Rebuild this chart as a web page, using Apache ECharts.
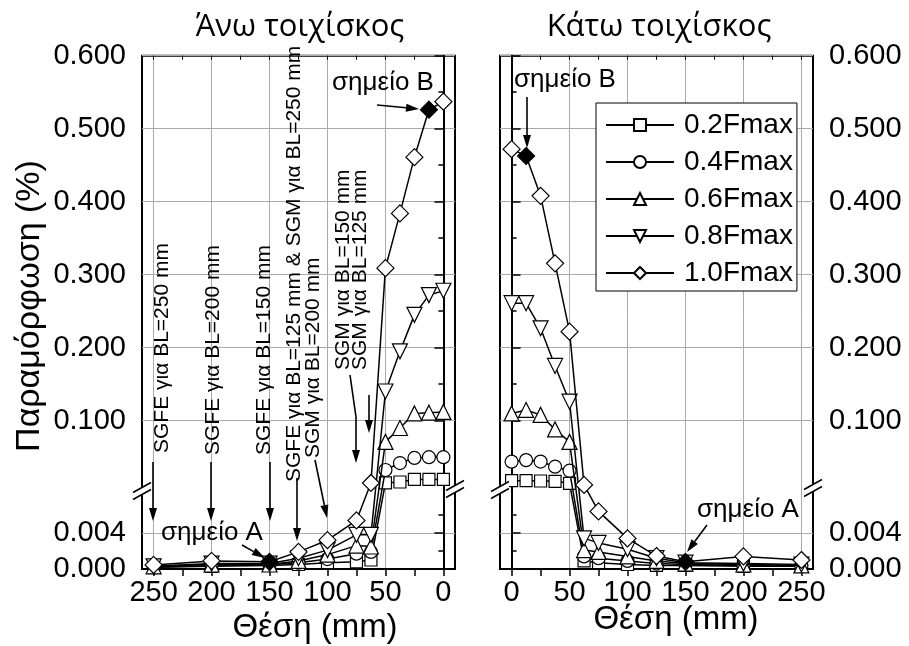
<!DOCTYPE html>
<html>
<head>
<meta charset="utf-8">
<script src="https://cdn.jsdelivr.net/npm/echarts@6/dist/echarts.min.js"></script>
<style>
  html, body { margin: 0; padding: 0; background: #fff; }
  #chart { width: 909px; height: 646px; }
</style>
</head>
<body>
<div id="chart"></div>
<script>
// θέσεις μετρήσεων (mm)
const posUpper = [250, 200, 150, 125, 100, 75, 62.5, 50, 37.5, 25, 12.5, 0];
const posLower = [0, 12.5, 25, 37.5, 50, 62.5, 75, 100, 125, 150, 200, 250];
const seriesNames = ['0.2Fmax', '0.4Fmax', '0.6Fmax', '0.8Fmax', '1.0Fmax'];

// Άνω τοιχίσκος, παραμόρφωση (%)
const upper02 = [0.0002, 0.0003, 0.0004, 0.0005, 0.0007, 0.0008, 0.0010, 0.0147, 0.0160, 0.0195, 0.0195, 0.0195];
const upper04 = [0.0002, 0.0004, 0.0005, 0.0007, 0.0011, 0.0017, 0.0019, 0.0325, 0.0420, 0.0490, 0.0500, 0.0500];
const upper06 = [0.0003, 0.0005, 0.0005, 0.0009, 0.0016, 0.0026, 0.0025, 0.071, 0.090, 0.110, 0.111, 0.112];
const upper08 = [0.0003, 0.0006, 0.0006, 0.0012, 0.0021, 0.0038, 0.0038, 0.140, 0.195, 0.245, 0.272, 0.278];
const upper10 = [0.00045, 0.0009, 0.0008, 0.0019, 0.0032, 0.0054, 0.0147, 0.309, 0.384, 0.461, 0.526, 0.537];

// Κάτω τοιχίσκος, παραμόρφωση (%)
const lower02 = [0.0178, 0.0178, 0.0174, 0.0170, 0.0142, 0.0009, 0.0007, 0.0005, 0.0004, 0.0004, 0.0003, 0.0003];
const lower04 = [0.0439, 0.0460, 0.0440, 0.0370, 0.0315, 0.0014, 0.0012, 0.0009, 0.0006, 0.0005, 0.0004, 0.0003];
const lower06 = [0.110, 0.1147, 0.108, 0.088, 0.071, 0.0021, 0.0019, 0.0014, 0.0009, 0.0006, 0.0005, 0.0004];
const lower08 = [0.261, 0.261, 0.2266, 0.175, 0.126, 0.0034, 0.0029, 0.0022, 0.0012, 0.0007, 0.0006, 0.0005];
const lower10 = [0.472, 0.4626, 0.408, 0.3156, 0.222, 0.012, 0.0064, 0.0034, 0.00144, 0.0008, 0.0014, 0.0010];

// σημεία A και B (δείκτες στο 1.0Fmax)
const upperPointA = 2, upperPointB = 10;
const lowerPointB = 1, lowerPointA = 9;

const yMajorTicks = [0, 0.004, 0.1, 0.2, 0.3, 0.4, 0.5, 0.6];
const yMinorTicks = [0.002, 0.006, 0.05, 0.15, 0.25, 0.35, 0.45, 0.55];
const xMajorTicks = [0, 50, 100, 150, 200, 250];
const xMinorTicks = [25, 75, 125, 175, 225];

// σπασμένος άξονας: 0-0.008 κάτω, 0.01-0.6 πάνω
function brk(v) {
  if (v <= 0.008) return v * 9000;
  if (v >= 0.01) return 82.6 + (v - 0.01) * 730;
  return 72 + (v - 0.008) * 5300;
}
const yMax = brk(0.6);

function yLabel(d) {
  let best = yMajorTicks[0];
  yMajorTicks.forEach(t => { if (Math.abs(brk(t) - d) < Math.abs(brk(best) - d)) best = t; });
  return best.toFixed(3);
}

const FONT = '"Liberation Sans", Arial, sans-serif';
const symbols = ['rect', 'circle', 'triangle', 'triangle', 'diamond'];
const symbolSizes = [12, 13, 15, 15, 17];
const rotations = [0, 0, 0, 180, 0];

function makeSeries(pos, lists, gridIdx, ptA, ptB) {
  return lists.map((vals, k) => ({
    name: seriesNames[k],
    type: 'line',
    xAxisIndex: gridIdx * 3,
    yAxisIndex: gridIdx * 2,
    symbol: symbols[k],
    symbolSize: symbolSizes[k],
    symbolRotate: rotations[k],
    showAllSymbol: true,
    z: 3 + k,
    lineStyle: { color: '#000', width: 1.5 },
    itemStyle: { color: '#fff', borderColor: '#000', borderWidth: 1.2 },
    emphasis: { disabled: true },
    data: pos.map((x, i) => {
      const item = { value: [x, brk(vals[i])] };
      if (k === 4 && (i === ptA || i === ptB)) item.itemStyle = { color: '#000' };
      return item;
    })
  }));
}

function xAxes(gridIndex, inverse) {
  const base = { type: 'value', gridIndex, min: -10, max: 260, inverse };
  return [
    Object.assign({}, base, {
      position: 'bottom',
      axisLine: { lineStyle: { color: '#000', width: 2 } },
      axisTick: { customValues: xMajorTicks, length: 7, lineStyle: { color: '#000', width: 1.5 } },
      axisLabel: { customValues: xMajorTicks, fontSize: 29, fontFamily: FONT, color: '#000', margin: 9 },
      splitLine: { show: true, lineStyle: { color: '#aaa', width: 1 } }
    }),
    Object.assign({}, base, {
      position: 'bottom',
      axisLine: { show: false },
      axisTick: { customValues: xMinorTicks, length: 7, lineStyle: { color: '#000', width: 1.5 } },
      axisLabel: { show: false },
      splitLine: { show: false }
    }),
    Object.assign({}, base, {
      position: 'top',
      axisLine: { show: false },
      axisTick: { inside: true, customValues: xMajorTicks.concat(xMinorTicks), length: 4, lineStyle: { color: '#000', width: 1 } },
      axisLabel: { show: false },
      splitLine: { show: false }
    })
  ];
}

function yAxes(gridIndex, position) {
  const base = { type: 'value', gridIndex, min: 0, max: yMax, position };
  return [
    Object.assign({}, base, {
      axisLine: { show: true, lineStyle: { color: '#000', width: 2 } },
      axisTick: { customValues: yMajorTicks.map(brk), length: 9, lineStyle: { color: '#000', width: 1.5 } },
      axisLabel: { customValues: yMajorTicks.map(brk), formatter: yLabel, fontSize: 29, fontFamily: FONT, color: '#000', margin: 16 },
      splitLine: { show: true, lineStyle: { color: '#aaa', width: 1 } }
    }),
    Object.assign({}, base, {
      axisLine: { show: false },
      axisTick: { customValues: yMinorTicks.map(brk), length: 5, lineStyle: { color: '#000', width: 1.5 } },
      axisLabel: { show: false },
      splitLine: { show: false }
    })
  ];
}

function arrow(x1, y1, x2, y2) {
  const a = Math.atan2(y2 - y1, x2 - x1);
  const L = 13, W = 4;
  const bx = x2 - L * Math.cos(a), by = y2 - L * Math.sin(a);
  const nx = -Math.sin(a) * W, ny = Math.cos(a) * W;
  return [
    { type: 'line', z: 100, shape: { x1, y1, x2: bx, y2: by }, style: { stroke: '#000', lineWidth: 1.6 } },
    { type: 'polygon', z: 100, shape: { points: [[x2, y2], [bx + nx, by + ny], [bx - nx, by - ny]] }, style: { fill: '#000' } }
  ];
}

function breakMark(x, y) {
  const dx = 9, dy = 5, g = 3.5;
  return [
    { type: 'polygon', z: 110, shape: { points: [[x - dx, y + dy - g], [x + dx, y - dy - g], [x + dx, y - dy + g], [x - dx, y + dy + g]] }, style: { fill: '#fff' } },
    { type: 'line', z: 111, shape: { x1: x - dx, y1: y + dy - g, x2: x + dx, y2: y - dy - g }, style: { stroke: '#000', lineWidth: 1.5 } },
    { type: 'line', z: 111, shape: { x1: x - dx, y1: y + dy + g, x2: x + dx, y2: y - dy + g }, style: { stroke: '#000', lineWidth: 1.5 } }
  ];
}

function text(str, x, y, size, opts) {
  opts = opts || {};
  return {
    type: 'text', z: 100, x, y, rotation: opts.rot || 0,
    style: {
      text: str, fill: '#000', font: size + 'px ' + (opts.family || FONT),
      textAlign: opts.align || 'center', textVerticalAlign: 'middle',
      align: opts.align || 'center', verticalAlign: 'middle'
    }
  };
}

function vtext(str, x, yBottom) {
  return text(str, x, yBottom, 21, { rot: Math.PI / 2, align: 'left' });
}

const graphics = [].concat(
  text('Άνω τοιχίσκος', 300, 27, 31, { family: '"Open Sans", sans-serif' }),
  text('Κάτω τοιχίσκος', 659, 27, 31, { family: '"Open Sans", sans-serif' }),
  text('Παραμόρφωση (%)', 30, 306, 34, { rot: Math.PI / 2 }),
  text('Θέση (mm)', 315, 628, 33),
  text('Θέση (mm)', 676, 620, 33),
  vtext('SGFE για BL=250 mm', 162, 453),
  vtext('SGFE για BL=200 mm', 213, 455),
  vtext('SGFE για BL=150 mm', 264, 455),
  vtext('SGFE για BL=125 mm & SGM για BL=250 mm', 294, 482),
  vtext('SGM για BL=200 mm', 313, 458),
  vtext('SGM για BL=150 mm', 343, 370),
  vtext('SGM για BL=125 mm', 360, 370),
  arrow(153, 462, 153, 521),
  arrow(211, 462, 211, 521),
  arrow(270, 462, 270, 521),
  arrow(297, 478, 297, 541),
  arrow(315, 460, 327, 518),
  [{ type: 'line', z: 100, shape: { x1: 350, y1: 375, x2: 356, y2: 417 }, style: { stroke: '#000', lineWidth: 1.6 } }],
  arrow(356, 417, 356, 463),
  arrow(369, 395, 369, 433),
  text('σημείο A', 212, 533, 26),
  arrow(242, 545, 265, 558),
  text('σημείο B', 383, 83, 26),
  arrow(377, 105, 419, 109),
  text('σημείο B', 565, 80, 26),
  arrow(527, 97, 527, 148),
  text('σημείο A', 748, 510, 26),
  arrow(707, 525, 687, 552),
  breakMark(142, 491),
  breakMark(455, 489),
  breakMark(500, 490),
  breakMark(813, 488)
);

const chart = echarts.init(document.getElementById('chart'));
chart.setOption({
  animation: false,
  backgroundColor: '#fff',
  grid: [
    { left: 142, top: 55.7, width: 313, height: yMax, show: true, borderColor: '#000', borderWidth: 2, backgroundColor: 'transparent' },
    { left: 500, top: 55.7, width: 313, height: yMax, show: true, borderColor: '#000', borderWidth: 2, backgroundColor: 'transparent' }
  ],
  xAxis: xAxes(0, true).concat(xAxes(1, false)),
  yAxis: yAxes(0, 'left').concat(yAxes(1, 'right')),
  legend: {
    data: seriesNames,
    orient: 'vertical',
    left: 596,
    top: 103,
    itemWidth: 68,
    itemHeight: 15,
    itemGap: 9,
    padding: [8, 4, 4, 9],
    backgroundColor: '#fff',
    borderColor: '#000',
    borderWidth: 1,
    selectedMode: false,
    textStyle: { fontSize: 28, fontFamily: FONT, color: '#000', padding: [0, 0, 0, 5] },
    z: 20
  },
  series: makeSeries(posUpper, [upper02, upper04, upper06, upper08, upper10], 0, upperPointA, upperPointB)
    .concat(makeSeries(posLower, [lower02, lower04, lower06, lower08, lower10], 1, lowerPointA, lowerPointB)),
  graphic: graphics
});
</script>
</body>
</html>
